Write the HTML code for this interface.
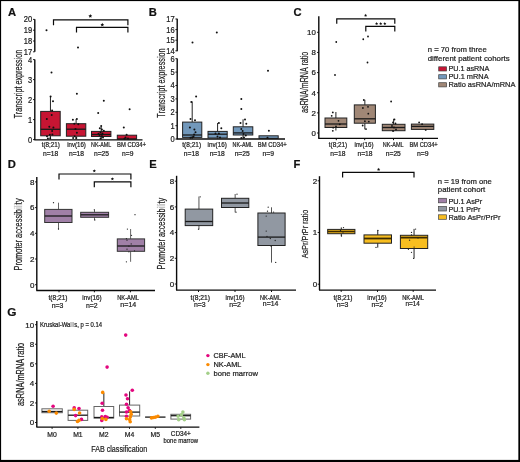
<!DOCTYPE html>
<html><head><meta charset="utf-8"><style>
html,body{margin:0;padding:0;background:#fff;}
body{width:520px;height:462px;overflow:hidden;position:relative;}
svg{position:absolute;left:0;top:0;will-change:transform;}
text{font-family:"Liberation Sans", sans-serif;stroke:#222;stroke-width:0.22px;paint-order:stroke;}
</style></head><body>
<svg width="520" height="462" viewBox="0 0 520 462">
<rect x="0" y="0" width="520" height="462" fill="#fff"/>
<text x="8.00" y="16.20" font-size="11.2" text-anchor="start" fill="#111" font-weight="bold">A</text>
<text x="148.80" y="16.20" font-size="11.2" text-anchor="start" fill="#111" font-weight="bold">B</text>
<text x="293.50" y="16.20" font-size="11.2" text-anchor="start" fill="#111" font-weight="bold">C</text>
<text x="7.80" y="168.00" font-size="11.2" text-anchor="start" fill="#111" font-weight="bold">D</text>
<text x="149.20" y="167.80" font-size="11.2" text-anchor="start" fill="#111" font-weight="bold">E</text>
<text x="293.50" y="168.00" font-size="11.2" text-anchor="start" fill="#111" font-weight="bold">F</text>
<text x="7.30" y="315.60" font-size="11.8" text-anchor="start" fill="#111" font-weight="bold">G</text>
<line x1="34.80" y1="19.20" x2="34.80" y2="51.80" stroke="#0a0a0a" stroke-width="1.4"/>
<line x1="33.00" y1="19.40" x2="34.80" y2="19.40" stroke="#0a0a0a" stroke-width="0.9"/>
<text x="32.20" y="22.34" font-size="8.2" text-anchor="end" fill="#1a1a1a" textLength="8.39" lengthAdjust="spacingAndGlyphs">20</text>
<line x1="33.00" y1="30.20" x2="34.80" y2="30.20" stroke="#0a0a0a" stroke-width="0.9"/>
<text x="32.20" y="33.14" font-size="8.2" text-anchor="end" fill="#1a1a1a" textLength="8.39" lengthAdjust="spacingAndGlyphs">19</text>
<line x1="33.00" y1="41.00" x2="34.80" y2="41.00" stroke="#0a0a0a" stroke-width="0.9"/>
<text x="32.20" y="43.94" font-size="8.2" text-anchor="end" fill="#1a1a1a" textLength="8.39" lengthAdjust="spacingAndGlyphs">18</text>
<line x1="33.00" y1="51.80" x2="34.80" y2="51.80" stroke="#0a0a0a" stroke-width="0.9"/>
<text x="32.20" y="54.74" font-size="8.2" text-anchor="end" fill="#1a1a1a" textLength="8.39" lengthAdjust="spacingAndGlyphs">17</text>
<line x1="34.80" y1="59.50" x2="34.80" y2="139.90" stroke="#0a0a0a" stroke-width="1.4"/>
<line x1="33.00" y1="59.60" x2="34.80" y2="59.60" stroke="#0a0a0a" stroke-width="0.9"/>
<text x="32.20" y="62.54" font-size="8.2" text-anchor="end" fill="#1a1a1a" textLength="4.19" lengthAdjust="spacingAndGlyphs">4</text>
<line x1="33.00" y1="79.60" x2="34.80" y2="79.60" stroke="#0a0a0a" stroke-width="0.9"/>
<text x="32.20" y="82.54" font-size="8.2" text-anchor="end" fill="#1a1a1a" textLength="4.19" lengthAdjust="spacingAndGlyphs">3</text>
<line x1="33.00" y1="99.60" x2="34.80" y2="99.60" stroke="#0a0a0a" stroke-width="0.9"/>
<text x="32.20" y="102.54" font-size="8.2" text-anchor="end" fill="#1a1a1a" textLength="4.19" lengthAdjust="spacingAndGlyphs">2</text>
<line x1="33.00" y1="119.60" x2="34.80" y2="119.60" stroke="#0a0a0a" stroke-width="0.9"/>
<text x="32.20" y="122.54" font-size="8.2" text-anchor="end" fill="#1a1a1a" textLength="4.19" lengthAdjust="spacingAndGlyphs">1</text>
<line x1="33.00" y1="139.60" x2="34.80" y2="139.60" stroke="#0a0a0a" stroke-width="0.9"/>
<text x="32.20" y="142.54" font-size="8.2" text-anchor="end" fill="#1a1a1a" textLength="4.19" lengthAdjust="spacingAndGlyphs">0</text>
<line x1="34.30" y1="139.90" x2="142.50" y2="139.90" stroke="#0a0a0a" stroke-width="1.3"/>
<text x="21.60" y="84.00" font-size="10.4" text-anchor="middle" fill="#222" textLength="68.7" lengthAdjust="spacingAndGlyphs" transform="rotate(-90 21.60 84.00)">Transcr<tspan fill="#666" stroke="#666">i</tspan>pt express<tspan fill="#666" stroke="#666">i</tspan>on</text>
<line x1="50.45" y1="96.50" x2="50.45" y2="111.40" stroke="#222" stroke-width="1.0"/>
<line x1="50.45" y1="135.80" x2="50.45" y2="139.50" stroke="#222" stroke-width="1.0"/>
<rect x="40.70" y="111.40" width="19.50" height="24.40" fill="#c71533" stroke="#222" stroke-width="1.0"/>
<line x1="40.70" y1="129.30" x2="60.20" y2="129.30" stroke="#1a1a1a" stroke-width="1.3"/>
<line x1="76.10" y1="119.00" x2="76.10" y2="123.70" stroke="#222" stroke-width="1.0"/>
<line x1="76.10" y1="136.20" x2="76.10" y2="139.50" stroke="#222" stroke-width="1.0"/>
<rect x="66.40" y="123.70" width="19.40" height="12.50" fill="#c71533" stroke="#222" stroke-width="1.0"/>
<line x1="66.40" y1="129.20" x2="85.80" y2="129.20" stroke="#1a1a1a" stroke-width="1.3"/>
<line x1="101.20" y1="126.50" x2="101.20" y2="131.40" stroke="#222" stroke-width="1.0"/>
<line x1="101.20" y1="136.50" x2="101.20" y2="139.50" stroke="#222" stroke-width="1.0"/>
<rect x="91.50" y="131.40" width="19.40" height="5.10" fill="#c71533" stroke="#222" stroke-width="1.0"/>
<line x1="91.50" y1="134.50" x2="110.90" y2="134.50" stroke="#1a1a1a" stroke-width="1.3"/>
<rect x="117.30" y="135.20" width="19.30" height="4.20" fill="#c71533" stroke="#222" stroke-width="1.0"/>
<line x1="117.30" y1="139.00" x2="136.60" y2="139.00" stroke="#1a1a1a" stroke-width="1.3"/>
<path d="M53.50,25.30 L53.50,19.80 L127.90,19.80 L127.90,25.30" stroke="#0a0a0a" stroke-width="1.2" fill="none"/>
<polygon points="90.30,14.10 90.85,15.34 92.20,15.48 91.19,16.39 91.48,17.72 90.30,17.04 89.12,17.72 89.41,16.39 88.40,15.48 89.75,15.34" fill="#111"/>
<path d="M76.50,32.60 L76.50,27.40 L127.90,27.40 L127.90,32.60" stroke="#0a0a0a" stroke-width="1.2" fill="none"/>
<polygon points="102.30,22.80 102.85,24.04 104.20,24.18 103.19,25.09 103.48,26.42 102.30,25.74 101.12,26.42 101.41,25.09 100.40,24.18 101.75,24.04" fill="#111"/>
<text x="50.80" y="146.50" font-size="7" text-anchor="middle" fill="#222" textLength="18.3" lengthAdjust="spacingAndGlyphs">t(8;21)</text>
<text x="50.60" y="156.20" font-size="7" text-anchor="middle" fill="#222" textLength="15.1" lengthAdjust="spacingAndGlyphs">n=18</text>
<text x="76.50" y="146.50" font-size="7" text-anchor="middle" fill="#222" textLength="18.7" lengthAdjust="spacingAndGlyphs">inv(16)</text>
<text x="76.50" y="156.20" font-size="7" text-anchor="middle" fill="#222" textLength="15.1" lengthAdjust="spacingAndGlyphs">n=18</text>
<text x="101.20" y="146.50" font-size="7" text-anchor="middle" fill="#222" textLength="20.2" lengthAdjust="spacingAndGlyphs">NK-AML</text>
<text x="101.50" y="156.20" font-size="7" text-anchor="middle" fill="#222" textLength="15.1" lengthAdjust="spacingAndGlyphs">n=25</text>
<text x="131.50" y="146.50" font-size="7" text-anchor="middle" fill="#222" textLength="28.9" lengthAdjust="spacingAndGlyphs">BM CD34+</text>
<text x="127.70" y="156.20" font-size="7" text-anchor="middle" fill="#222" textLength="11.3" lengthAdjust="spacingAndGlyphs">n=9</text>
<line x1="177.20" y1="18.80" x2="177.20" y2="51.30" stroke="#0a0a0a" stroke-width="1.4"/>
<line x1="175.40" y1="19.00" x2="177.20" y2="19.00" stroke="#0a0a0a" stroke-width="0.9"/>
<text x="174.60" y="21.94" font-size="8.2" text-anchor="end" fill="#1a1a1a" textLength="8.39" lengthAdjust="spacingAndGlyphs">17</text>
<line x1="175.40" y1="29.60" x2="177.20" y2="29.60" stroke="#0a0a0a" stroke-width="0.9"/>
<text x="174.60" y="32.54" font-size="8.2" text-anchor="end" fill="#1a1a1a" textLength="8.39" lengthAdjust="spacingAndGlyphs">16</text>
<line x1="175.40" y1="40.20" x2="177.20" y2="40.20" stroke="#0a0a0a" stroke-width="0.9"/>
<text x="174.60" y="43.14" font-size="8.2" text-anchor="end" fill="#1a1a1a" textLength="8.39" lengthAdjust="spacingAndGlyphs">15</text>
<line x1="175.40" y1="50.80" x2="177.20" y2="50.80" stroke="#0a0a0a" stroke-width="0.9"/>
<text x="174.60" y="53.74" font-size="8.2" text-anchor="end" fill="#1a1a1a" textLength="8.39" lengthAdjust="spacingAndGlyphs">14</text>
<line x1="177.20" y1="58.50" x2="177.20" y2="139.00" stroke="#0a0a0a" stroke-width="1.4"/>
<line x1="175.40" y1="58.70" x2="177.20" y2="58.70" stroke="#0a0a0a" stroke-width="0.9"/>
<text x="174.60" y="61.64" font-size="8.2" text-anchor="end" fill="#1a1a1a" textLength="4.19" lengthAdjust="spacingAndGlyphs">6</text>
<line x1="175.40" y1="72.10" x2="177.20" y2="72.10" stroke="#0a0a0a" stroke-width="0.9"/>
<text x="174.60" y="75.04" font-size="8.2" text-anchor="end" fill="#1a1a1a" textLength="4.19" lengthAdjust="spacingAndGlyphs">5</text>
<line x1="175.40" y1="85.50" x2="177.20" y2="85.50" stroke="#0a0a0a" stroke-width="0.9"/>
<text x="174.60" y="88.44" font-size="8.2" text-anchor="end" fill="#1a1a1a" textLength="4.19" lengthAdjust="spacingAndGlyphs">4</text>
<line x1="175.40" y1="98.90" x2="177.20" y2="98.90" stroke="#0a0a0a" stroke-width="0.9"/>
<text x="174.60" y="101.84" font-size="8.2" text-anchor="end" fill="#1a1a1a" textLength="4.19" lengthAdjust="spacingAndGlyphs">3</text>
<line x1="175.40" y1="112.30" x2="177.20" y2="112.30" stroke="#0a0a0a" stroke-width="0.9"/>
<text x="174.60" y="115.24" font-size="8.2" text-anchor="end" fill="#1a1a1a" textLength="4.19" lengthAdjust="spacingAndGlyphs">2</text>
<line x1="175.40" y1="125.70" x2="177.20" y2="125.70" stroke="#0a0a0a" stroke-width="0.9"/>
<text x="174.60" y="128.64" font-size="8.2" text-anchor="end" fill="#1a1a1a" textLength="4.19" lengthAdjust="spacingAndGlyphs">1</text>
<line x1="175.40" y1="139.10" x2="177.20" y2="139.10" stroke="#0a0a0a" stroke-width="0.9"/>
<text x="174.60" y="142.04" font-size="8.2" text-anchor="end" fill="#1a1a1a" textLength="4.19" lengthAdjust="spacingAndGlyphs">0</text>
<line x1="176.70" y1="139.00" x2="285.00" y2="139.00" stroke="#0a0a0a" stroke-width="1.3"/>
<text x="164.60" y="83.00" font-size="10.4" text-anchor="middle" fill="#222" textLength="69.3" lengthAdjust="spacingAndGlyphs" transform="rotate(-90 164.60 83.00)">Transcr<tspan fill="#666" stroke="#666">i</tspan>pt express<tspan fill="#666" stroke="#666">i</tspan>on</text>
<line x1="192.20" y1="101.50" x2="192.20" y2="122.10" stroke="#222" stroke-width="1.0"/>
<line x1="192.20" y1="137.40" x2="192.20" y2="139.00" stroke="#222" stroke-width="1.0"/>
<rect x="182.60" y="122.10" width="19.20" height="15.30" fill="#7298bb" stroke="#222" stroke-width="1.0"/>
<line x1="182.60" y1="135.00" x2="201.80" y2="135.00" stroke="#1a1a1a" stroke-width="1.3"/>
<line x1="217.60" y1="123.00" x2="217.60" y2="131.40" stroke="#222" stroke-width="1.0"/>
<line x1="217.60" y1="138.00" x2="217.60" y2="139.00" stroke="#222" stroke-width="1.0"/>
<rect x="208.00" y="131.40" width="19.20" height="6.60" fill="#7298bb" stroke="#222" stroke-width="1.0"/>
<line x1="208.00" y1="134.20" x2="227.20" y2="134.20" stroke="#1a1a1a" stroke-width="1.3"/>
<line x1="243.05" y1="119.30" x2="243.05" y2="126.80" stroke="#222" stroke-width="1.0"/>
<line x1="243.05" y1="135.00" x2="243.05" y2="139.00" stroke="#222" stroke-width="1.0"/>
<rect x="233.30" y="126.80" width="19.50" height="8.20" fill="#7298bb" stroke="#222" stroke-width="1.0"/>
<line x1="233.30" y1="132.90" x2="252.80" y2="132.90" stroke="#1a1a1a" stroke-width="1.3"/>
<rect x="259.00" y="135.80" width="19.20" height="2.70" fill="#7298bb" stroke="#222" stroke-width="1.0"/>
<line x1="259.00" y1="138.30" x2="278.20" y2="138.30" stroke="#1a1a1a" stroke-width="0.8"/>
<text x="191.70" y="146.50" font-size="7" text-anchor="middle" fill="#222" textLength="18.8" lengthAdjust="spacingAndGlyphs">t(8;21)</text>
<text x="191.40" y="156.20" font-size="7" text-anchor="middle" fill="#222" textLength="15.1" lengthAdjust="spacingAndGlyphs">n=18</text>
<text x="217.20" y="146.50" font-size="7" text-anchor="middle" fill="#222" textLength="19.2" lengthAdjust="spacingAndGlyphs">inv(16)</text>
<text x="217.20" y="156.20" font-size="7" text-anchor="middle" fill="#222" textLength="15.1" lengthAdjust="spacingAndGlyphs">n=18</text>
<text x="242.80" y="146.50" font-size="7" text-anchor="middle" fill="#222" textLength="20.5" lengthAdjust="spacingAndGlyphs">NK-AML</text>
<text x="242.20" y="156.20" font-size="7" text-anchor="middle" fill="#222" textLength="15.1" lengthAdjust="spacingAndGlyphs">n=25</text>
<text x="272.30" y="146.50" font-size="7" text-anchor="middle" fill="#222" textLength="29" lengthAdjust="spacingAndGlyphs">BM CD34+</text>
<text x="268.30" y="156.20" font-size="7" text-anchor="middle" fill="#222" textLength="11.5" lengthAdjust="spacingAndGlyphs">n=9</text>
<line x1="318.80" y1="16.30" x2="318.80" y2="138.40" stroke="#0a0a0a" stroke-width="1.4"/>
<line x1="317.00" y1="32.30" x2="318.80" y2="32.30" stroke="#0a0a0a" stroke-width="0.9"/>
<text x="315.80" y="35.13" font-size="7.9" text-anchor="end" fill="#1a1a1a">10</text>
<line x1="317.00" y1="52.44" x2="318.80" y2="52.44" stroke="#0a0a0a" stroke-width="0.9"/>
<text x="315.80" y="55.27" font-size="7.9" text-anchor="end" fill="#1a1a1a">8</text>
<line x1="317.00" y1="72.58" x2="318.80" y2="72.58" stroke="#0a0a0a" stroke-width="0.9"/>
<text x="315.80" y="75.41" font-size="7.9" text-anchor="end" fill="#1a1a1a">6</text>
<line x1="317.00" y1="92.72" x2="318.80" y2="92.72" stroke="#0a0a0a" stroke-width="0.9"/>
<text x="315.80" y="95.55" font-size="7.9" text-anchor="end" fill="#1a1a1a">4</text>
<line x1="317.00" y1="112.86" x2="318.80" y2="112.86" stroke="#0a0a0a" stroke-width="0.9"/>
<text x="315.80" y="115.69" font-size="7.9" text-anchor="end" fill="#1a1a1a">2</text>
<line x1="317.00" y1="133.00" x2="318.80" y2="133.00" stroke="#0a0a0a" stroke-width="0.9"/>
<text x="315.80" y="135.83" font-size="7.9" text-anchor="end" fill="#1a1a1a">0</text>
<line x1="318.30" y1="138.40" x2="438.00" y2="138.40" stroke="#0a0a0a" stroke-width="1.3"/>
<text x="307.60" y="82.30" font-size="10.8" text-anchor="middle" fill="#222" textLength="61.2" lengthAdjust="spacingAndGlyphs" transform="rotate(-90 307.60 82.30)">asRNA/mRNA ratio</text>
<line x1="335.90" y1="112.00" x2="335.90" y2="118.00" stroke="#222" stroke-width="1.0"/>
<line x1="335.90" y1="127.50" x2="335.90" y2="130.50" stroke="#222" stroke-width="1.0"/>
<rect x="325.00" y="118.00" width="21.80" height="9.50" fill="#a08776" stroke="#222" stroke-width="1.0"/>
<line x1="325.00" y1="124.00" x2="346.80" y2="124.00" stroke="#1a1a1a" stroke-width="1.3"/>
<line x1="364.85" y1="99.80" x2="364.85" y2="104.90" stroke="#222" stroke-width="1.0"/>
<line x1="364.85" y1="123.20" x2="364.85" y2="129.40" stroke="#222" stroke-width="1.0"/>
<rect x="354.30" y="104.90" width="21.10" height="18.30" fill="#a08776" stroke="#222" stroke-width="1.0"/>
<line x1="354.30" y1="118.80" x2="375.40" y2="118.80" stroke="#1a1a1a" stroke-width="1.3"/>
<line x1="393.65" y1="118.80" x2="393.65" y2="124.30" stroke="#222" stroke-width="1.0"/>
<line x1="393.65" y1="130.70" x2="393.65" y2="131.50" stroke="#222" stroke-width="1.0"/>
<rect x="382.30" y="124.30" width="22.70" height="6.40" fill="#a08776" stroke="#222" stroke-width="1.0"/>
<line x1="382.30" y1="127.50" x2="405.00" y2="127.50" stroke="#1a1a1a" stroke-width="1.3"/>
<rect x="411.40" y="124.10" width="22.40" height="5.30" fill="#a08776" stroke="#222" stroke-width="1.0"/>
<line x1="411.40" y1="126.40" x2="433.80" y2="126.40" stroke="#1a1a1a" stroke-width="1.3"/>
<path d="M336.75,23.80 L336.75,18.80 L394.80,18.80 L394.80,23.80" stroke="#0a0a0a" stroke-width="1.2" fill="none"/>
<polygon points="365.60,13.80 366.04,14.79 367.12,14.91 366.32,15.63 366.54,16.69 365.60,16.15 364.66,16.69 364.88,15.63 364.08,14.91 365.16,14.79" fill="#111"/>
<path d="M365.80,31.60 L365.80,26.30 L394.80,26.30 L394.80,31.60" stroke="#0a0a0a" stroke-width="1.2" fill="none"/>
<polygon points="376.60,22.10 377.04,23.09 378.12,23.21 377.32,23.93 377.54,24.99 376.60,24.45 375.66,24.99 375.88,23.93 375.08,23.21 376.16,23.09" fill="#111"/>
<polygon points="380.70,22.10 381.14,23.09 382.22,23.21 381.42,23.93 381.64,24.99 380.70,24.45 379.76,24.99 379.98,23.93 379.18,23.21 380.26,23.09" fill="#111"/>
<polygon points="384.80,22.10 385.24,23.09 386.32,23.21 385.52,23.93 385.74,24.99 384.80,24.45 383.86,24.99 384.08,23.93 383.28,23.21 384.36,23.09" fill="#111"/>
<text x="338.00" y="147.20" font-size="7" text-anchor="middle" fill="#222" textLength="18.4" lengthAdjust="spacingAndGlyphs">t(8;21)</text>
<text x="337.90" y="156.40" font-size="7" text-anchor="middle" fill="#222" textLength="15.1" lengthAdjust="spacingAndGlyphs">n=18</text>
<text x="364.00" y="147.20" font-size="7" text-anchor="middle" fill="#222" textLength="19" lengthAdjust="spacingAndGlyphs">inv(16)</text>
<text x="365.00" y="156.40" font-size="7" text-anchor="middle" fill="#222" textLength="15.1" lengthAdjust="spacingAndGlyphs">n=18</text>
<text x="393.20" y="147.20" font-size="7" text-anchor="middle" fill="#222" textLength="20.7" lengthAdjust="spacingAndGlyphs">NK-AML</text>
<text x="393.30" y="156.40" font-size="7" text-anchor="middle" fill="#222" textLength="15.1" lengthAdjust="spacingAndGlyphs">n=25</text>
<text x="423.60" y="147.20" font-size="7" text-anchor="middle" fill="#222" textLength="28.2" lengthAdjust="spacingAndGlyphs">BM CD34+</text>
<text x="422.70" y="156.40" font-size="7" text-anchor="middle" fill="#222" textLength="11.6" lengthAdjust="spacingAndGlyphs">n=9</text>
<text x="427.70" y="52.20" font-size="7.8" text-anchor="start" fill="#222" textLength="59" lengthAdjust="spacingAndGlyphs">n = 70 from three</text>
<text x="427.70" y="60.80" font-size="7.8" text-anchor="start" fill="#222" textLength="82" lengthAdjust="spacingAndGlyphs">different patient cohorts</text>
<rect x="438.70" y="66.80" width="7.90" height="4.20" fill="#c71533" stroke="#444" stroke-width="0.7"/>
<text x="448.40" y="71.30" font-size="7.8" text-anchor="start" fill="#222" textLength="41" lengthAdjust="spacingAndGlyphs">PU.1 asRNA</text>
<rect x="438.70" y="74.70" width="7.90" height="4.20" fill="#7298bb" stroke="#444" stroke-width="0.7"/>
<text x="448.40" y="79.20" font-size="7.8" text-anchor="start" fill="#222" textLength="40.2" lengthAdjust="spacingAndGlyphs">PU.1 mRNA</text>
<rect x="438.70" y="82.70" width="7.90" height="4.20" fill="#a08776" stroke="#444" stroke-width="0.7"/>
<text x="448.40" y="87.20" font-size="7.8" text-anchor="start" fill="#222" textLength="67" lengthAdjust="spacingAndGlyphs">Ratio asRNA/mRNA</text>
<line x1="36.80" y1="177.00" x2="36.80" y2="290.50" stroke="#0a0a0a" stroke-width="1.4"/>
<line x1="35.00" y1="181.90" x2="36.80" y2="181.90" stroke="#0a0a0a" stroke-width="0.9"/>
<text x="34.40" y="184.76" font-size="8" text-anchor="end" fill="#1a1a1a">8</text>
<line x1="35.00" y1="207.60" x2="36.80" y2="207.60" stroke="#0a0a0a" stroke-width="0.9"/>
<text x="34.40" y="210.46" font-size="8" text-anchor="end" fill="#1a1a1a">6</text>
<line x1="35.00" y1="233.30" x2="36.80" y2="233.30" stroke="#0a0a0a" stroke-width="0.9"/>
<text x="34.40" y="236.16" font-size="8" text-anchor="end" fill="#1a1a1a">4</text>
<line x1="35.00" y1="259.00" x2="36.80" y2="259.00" stroke="#0a0a0a" stroke-width="0.9"/>
<text x="34.40" y="261.86" font-size="8" text-anchor="end" fill="#1a1a1a">2</text>
<line x1="35.00" y1="284.70" x2="36.80" y2="284.70" stroke="#0a0a0a" stroke-width="0.9"/>
<text x="34.40" y="287.56" font-size="8" text-anchor="end" fill="#1a1a1a">0</text>
<line x1="36.30" y1="290.50" x2="155.00" y2="290.50" stroke="#0a0a0a" stroke-width="1.3"/>
<text x="22.00" y="234.40" font-size="10.2" text-anchor="middle" fill="#222" textLength="72.0" lengthAdjust="spacingAndGlyphs" transform="rotate(-90 22.00 234.40)">Promoter accessib<tspan fill="#bbb" stroke="#bbb">ili</tspan>ty</text>
<line x1="58.50" y1="202.70" x2="58.50" y2="209.40" stroke="#555" stroke-width="0.9"/>
<line x1="58.50" y1="222.50" x2="58.50" y2="229.40" stroke="#555" stroke-width="0.9"/>
<rect x="44.70" y="209.40" width="27.30" height="13.10" fill="#a080a7" stroke="#333" stroke-width="1.0"/>
<line x1="44.70" y1="216.00" x2="72.00" y2="216.00" stroke="#1a1a1a" stroke-width="1.3"/>
<line x1="94.50" y1="209.60" x2="94.50" y2="212.30" stroke="#555" stroke-width="0.9"/>
<line x1="94.50" y1="217.30" x2="94.50" y2="220.00" stroke="#555" stroke-width="0.9"/>
<rect x="80.70" y="212.30" width="27.90" height="5.00" fill="#a080a7" stroke="#333" stroke-width="1.0"/>
<line x1="80.70" y1="214.80" x2="108.60" y2="214.80" stroke="#1a1a1a" stroke-width="1.3"/>
<line x1="130.60" y1="229.00" x2="130.60" y2="238.90" stroke="#555" stroke-width="0.9"/>
<line x1="130.60" y1="251.30" x2="130.60" y2="261.80" stroke="#555" stroke-width="0.9"/>
<rect x="117.30" y="238.90" width="27.30" height="12.40" fill="#a080a7" stroke="#333" stroke-width="1.0"/>
<line x1="117.30" y1="246.00" x2="144.60" y2="246.00" stroke="#1a1a1a" stroke-width="1.3"/>
<path d="M59.00,179.50 L59.00,174.00 L130.90,174.00 L130.90,179.50" stroke="#0a0a0a" stroke-width="1.2" fill="none"/>
<polygon points="94.30,169.20 94.77,170.25 95.92,170.37 95.06,171.15 95.30,172.28 94.30,171.70 93.30,172.28 93.54,171.15 92.68,170.37 93.83,170.25" fill="#111"/>
<path d="M94.30,187.20 L94.30,181.80 L130.90,181.80 L130.90,187.20" stroke="#0a0a0a" stroke-width="1.2" fill="none"/>
<polygon points="112.40,177.20 112.87,178.25 114.02,178.37 113.16,179.15 113.40,180.28 112.40,179.70 111.40,180.28 111.64,179.15 110.78,178.37 111.93,178.25" fill="#111"/>
<text x="58.00" y="300.10" font-size="7" text-anchor="middle" fill="#222" textLength="19" lengthAdjust="spacingAndGlyphs">t(8;21)</text>
<text x="57.50" y="308.10" font-size="7" text-anchor="middle" fill="#222" textLength="11.7" lengthAdjust="spacingAndGlyphs">n=3</text>
<text x="92.00" y="300.10" font-size="7" text-anchor="middle" fill="#222" textLength="19.5" lengthAdjust="spacingAndGlyphs">inv(16)</text>
<text x="91.80" y="308.10" font-size="7" text-anchor="middle" fill="#222" textLength="11.7" lengthAdjust="spacingAndGlyphs">n=2</text>
<text x="128.10" y="300.10" font-size="7" text-anchor="middle" fill="#222" textLength="21.8" lengthAdjust="spacingAndGlyphs">NK-AML</text>
<text x="128.30" y="306.90" font-size="7" text-anchor="middle" fill="#222" textLength="15.9" lengthAdjust="spacingAndGlyphs">n=14</text>
<line x1="176.60" y1="175.80" x2="176.60" y2="290.20" stroke="#0a0a0a" stroke-width="1.4"/>
<line x1="174.80" y1="181.20" x2="176.60" y2="181.20" stroke="#0a0a0a" stroke-width="0.9"/>
<text x="174.20" y="184.06" font-size="8" text-anchor="end" fill="#1a1a1a">8</text>
<line x1="174.80" y1="206.90" x2="176.60" y2="206.90" stroke="#0a0a0a" stroke-width="0.9"/>
<text x="174.20" y="209.76" font-size="8" text-anchor="end" fill="#1a1a1a">6</text>
<line x1="174.80" y1="232.60" x2="176.60" y2="232.60" stroke="#0a0a0a" stroke-width="0.9"/>
<text x="174.20" y="235.46" font-size="8" text-anchor="end" fill="#1a1a1a">4</text>
<line x1="174.80" y1="258.30" x2="176.60" y2="258.30" stroke="#0a0a0a" stroke-width="0.9"/>
<text x="174.20" y="261.16" font-size="8" text-anchor="end" fill="#1a1a1a">2</text>
<line x1="174.80" y1="284.00" x2="176.60" y2="284.00" stroke="#0a0a0a" stroke-width="0.9"/>
<text x="174.20" y="286.86" font-size="8" text-anchor="end" fill="#1a1a1a">0</text>
<line x1="176.10" y1="290.20" x2="296.00" y2="290.20" stroke="#0a0a0a" stroke-width="1.3"/>
<text x="165.10" y="233.60" font-size="10.2" text-anchor="middle" fill="#222" textLength="71.6" lengthAdjust="spacingAndGlyphs" transform="rotate(-90 165.10 233.60)">Promoter accessib<tspan fill="#bbb" stroke="#bbb">ili</tspan>ty</text>
<line x1="198.95" y1="196.50" x2="198.95" y2="209.10" stroke="#555" stroke-width="1.0"/>
<line x1="198.95" y1="225.60" x2="198.95" y2="229.40" stroke="#555" stroke-width="1.0"/>
<rect x="185.20" y="209.10" width="27.50" height="16.50" fill="#9198a2" stroke="#222" stroke-width="1.0"/>
<line x1="185.20" y1="221.50" x2="212.70" y2="221.50" stroke="#1a1a1a" stroke-width="1.3"/>
<line x1="235.15" y1="194.00" x2="235.15" y2="198.30" stroke="#555" stroke-width="1.0"/>
<line x1="235.15" y1="207.50" x2="235.15" y2="212.40" stroke="#555" stroke-width="1.0"/>
<rect x="221.50" y="198.30" width="27.30" height="9.20" fill="#9198a2" stroke="#222" stroke-width="1.0"/>
<line x1="221.50" y1="203.00" x2="248.80" y2="203.00" stroke="#1a1a1a" stroke-width="1.3"/>
<line x1="271.50" y1="207.30" x2="271.50" y2="213.00" stroke="#555" stroke-width="1.0"/>
<line x1="271.50" y1="245.50" x2="271.50" y2="262.60" stroke="#555" stroke-width="1.0"/>
<rect x="257.90" y="213.00" width="27.20" height="32.50" fill="#9198a2" stroke="#222" stroke-width="1.0"/>
<line x1="257.90" y1="237.10" x2="285.10" y2="237.10" stroke="#1a1a1a" stroke-width="1.3"/>
<text x="200.30" y="300.30" font-size="7" text-anchor="middle" fill="#222" textLength="19.4" lengthAdjust="spacingAndGlyphs">t(8;21)</text>
<text x="199.80" y="307.40" font-size="7" text-anchor="middle" fill="#222" textLength="11.7" lengthAdjust="spacingAndGlyphs">n=3</text>
<text x="235.00" y="300.30" font-size="7" text-anchor="middle" fill="#222" textLength="19" lengthAdjust="spacingAndGlyphs">inv(16)</text>
<text x="235.00" y="307.40" font-size="7" text-anchor="middle" fill="#222" textLength="11.7" lengthAdjust="spacingAndGlyphs">n=2</text>
<text x="270.50" y="300.30" font-size="7" text-anchor="middle" fill="#222" textLength="21" lengthAdjust="spacingAndGlyphs">NK-AML</text>
<text x="270.60" y="306.20" font-size="7" text-anchor="middle" fill="#222" textLength="15.5" lengthAdjust="spacingAndGlyphs">n=14</text>
<line x1="319.50" y1="176.20" x2="319.50" y2="290.10" stroke="#0a0a0a" stroke-width="1.4"/>
<line x1="317.70" y1="180.80" x2="319.50" y2="180.80" stroke="#0a0a0a" stroke-width="0.9"/>
<text x="317.10" y="183.66" font-size="8" text-anchor="end" fill="#1a1a1a">2</text>
<line x1="317.70" y1="232.50" x2="319.50" y2="232.50" stroke="#0a0a0a" stroke-width="0.9"/>
<text x="317.10" y="235.36" font-size="8" text-anchor="end" fill="#1a1a1a">1</text>
<line x1="317.70" y1="284.20" x2="319.50" y2="284.20" stroke="#0a0a0a" stroke-width="0.9"/>
<text x="317.10" y="287.06" font-size="8" text-anchor="end" fill="#1a1a1a">0</text>
<line x1="319.00" y1="290.10" x2="436.00" y2="290.10" stroke="#0a0a0a" stroke-width="1.3"/>
<text x="307.90" y="234.00" font-size="9.8" text-anchor="middle" fill="#222" textLength="48.5" lengthAdjust="spacingAndGlyphs" transform="rotate(-90 307.90 234.00)">AsPr/PrPr ratio</text>
<line x1="341.30" y1="227.40" x2="341.30" y2="229.40" stroke="#222" stroke-width="1.0"/>
<line x1="341.30" y1="233.70" x2="341.30" y2="236.20" stroke="#222" stroke-width="1.0"/>
<rect x="327.70" y="229.40" width="27.20" height="4.30" fill="#f8be20" stroke="#222" stroke-width="1.0"/>
<line x1="327.70" y1="231.50" x2="354.90" y2="231.50" stroke="#3d2b00" stroke-width="1.6"/>
<line x1="377.75" y1="230.20" x2="377.75" y2="234.90" stroke="#222" stroke-width="1.0"/>
<line x1="377.75" y1="243.20" x2="377.75" y2="247.60" stroke="#222" stroke-width="1.0"/>
<rect x="364.00" y="234.90" width="27.50" height="8.30" fill="#f8be20" stroke="#222" stroke-width="1.0"/>
<line x1="364.00" y1="238.50" x2="391.50" y2="238.50" stroke="#3d2b00" stroke-width="1.8"/>
<line x1="414.05" y1="228.90" x2="414.05" y2="235.30" stroke="#222" stroke-width="1.0"/>
<line x1="414.05" y1="248.50" x2="414.05" y2="258.40" stroke="#222" stroke-width="1.0"/>
<rect x="400.40" y="235.30" width="27.30" height="13.20" fill="#f8be20" stroke="#222" stroke-width="1.0"/>
<line x1="400.40" y1="237.60" x2="427.70" y2="237.60" stroke="#3d2b00" stroke-width="1.8"/>
<path d="M342.60,177.40 L342.60,172.40 L414.00,172.40 L414.00,177.40" stroke="#0a0a0a" stroke-width="1.2" fill="none"/>
<polygon points="378.60,167.80 379.07,168.85 380.22,168.97 379.36,169.75 379.60,170.88 378.60,170.30 377.60,170.88 377.84,169.75 376.98,168.97 378.13,168.85" fill="#111"/>
<text x="343.00" y="299.80" font-size="7" text-anchor="middle" fill="#222" textLength="19" lengthAdjust="spacingAndGlyphs">t(8;21)</text>
<text x="342.50" y="307.40" font-size="7" text-anchor="middle" fill="#222" textLength="11.7" lengthAdjust="spacingAndGlyphs">n=3</text>
<text x="377.00" y="299.80" font-size="7" text-anchor="middle" fill="#222" textLength="19.5" lengthAdjust="spacingAndGlyphs">inv(16)</text>
<text x="377.30" y="307.40" font-size="7" text-anchor="middle" fill="#222" textLength="11.7" lengthAdjust="spacingAndGlyphs">n=2</text>
<text x="413.10" y="299.80" font-size="7" text-anchor="middle" fill="#222" textLength="21.8" lengthAdjust="spacingAndGlyphs">NK-AML</text>
<text x="412.60" y="306.20" font-size="7" text-anchor="middle" fill="#222" textLength="14.4" lengthAdjust="spacingAndGlyphs">n=14</text>
<text x="437.80" y="183.80" font-size="7.8" text-anchor="start" fill="#222" textLength="54" lengthAdjust="spacingAndGlyphs">n = 19 from one</text>
<text x="437.80" y="192.00" font-size="7.8" text-anchor="start" fill="#222" textLength="47.5" lengthAdjust="spacingAndGlyphs">patient cohort</text>
<rect x="438.50" y="198.30" width="8.00" height="4.50" fill="#a080a7" stroke="#444" stroke-width="0.7"/>
<text x="448.40" y="203.50" font-size="7.8" text-anchor="start" fill="#222" textLength="33.8" lengthAdjust="spacingAndGlyphs">PU.1 AsPr</text>
<rect x="438.50" y="206.50" width="8.00" height="4.50" fill="#9198a2" stroke="#444" stroke-width="0.7"/>
<text x="448.40" y="211.70" font-size="7.8" text-anchor="start" fill="#222" textLength="32" lengthAdjust="spacingAndGlyphs">PU.1 PrPr</text>
<rect x="438.50" y="214.80" width="8.00" height="4.50" fill="#f8be20" stroke="#444" stroke-width="0.7"/>
<text x="448.40" y="220.00" font-size="7.8" text-anchor="start" fill="#222" textLength="52" lengthAdjust="spacingAndGlyphs">Ratio AsPr/PrPr</text>
<line x1="36.80" y1="321.00" x2="36.80" y2="427.10" stroke="#0a0a0a" stroke-width="1.4"/>
<line x1="35.00" y1="324.70" x2="36.80" y2="324.70" stroke="#0a0a0a" stroke-width="0.9"/>
<text x="34.10" y="327.56" font-size="8" text-anchor="end" fill="#1a1a1a">10</text>
<line x1="35.00" y1="344.26" x2="36.80" y2="344.26" stroke="#0a0a0a" stroke-width="0.9"/>
<text x="34.10" y="347.12" font-size="8" text-anchor="end" fill="#1a1a1a">8</text>
<line x1="35.00" y1="363.82" x2="36.80" y2="363.82" stroke="#0a0a0a" stroke-width="0.9"/>
<text x="34.10" y="366.68" font-size="8" text-anchor="end" fill="#1a1a1a">6</text>
<line x1="35.00" y1="383.38" x2="36.80" y2="383.38" stroke="#0a0a0a" stroke-width="0.9"/>
<text x="34.10" y="386.24" font-size="8" text-anchor="end" fill="#1a1a1a">4</text>
<line x1="35.00" y1="402.94" x2="36.80" y2="402.94" stroke="#0a0a0a" stroke-width="0.9"/>
<text x="34.10" y="405.80" font-size="8" text-anchor="end" fill="#1a1a1a">2</text>
<line x1="35.00" y1="422.50" x2="36.80" y2="422.50" stroke="#0a0a0a" stroke-width="0.9"/>
<text x="34.10" y="425.36" font-size="8" text-anchor="end" fill="#1a1a1a">0</text>
<line x1="36.30" y1="427.10" x2="199.40" y2="427.10" stroke="#0a0a0a" stroke-width="1.3"/>
<text x="23.90" y="374.40" font-size="10.0" text-anchor="middle" fill="#222" textLength="63.2" lengthAdjust="spacingAndGlyphs" transform="rotate(-90 23.90 374.40)">asRNA/mRNA ratio</text>
<text x="40.00" y="326.70" font-size="6.6" text-anchor="start" fill="#222" textLength="62.0" lengthAdjust="spacingAndGlyphs">Kruskal-Wa<tspan fill="#999" stroke="#999">lli</tspan>s, p = 0.14</text>
<rect x="41.90" y="408.80" width="20.40" height="3.90" fill="white" stroke="#666" stroke-width="1.0"/>
<line x1="41.90" y1="411.50" x2="62.30" y2="411.50" stroke="#1a1a1a" stroke-width="1.3"/>
<rect x="68.10" y="410.20" width="19.60" height="10.20" fill="white" stroke="#666" stroke-width="1.0"/>
<line x1="68.10" y1="415.20" x2="87.70" y2="415.20" stroke="#1a1a1a" stroke-width="1.3"/>
<line x1="103.85" y1="393.00" x2="103.85" y2="406.50" stroke="#222" stroke-width="1.0"/>
<rect x="94.00" y="406.50" width="19.70" height="11.60" fill="white" stroke="#666" stroke-width="1.0"/>
<line x1="94.00" y1="417.50" x2="113.70" y2="417.50" stroke="#1a1a1a" stroke-width="1.3"/>
<line x1="129.60" y1="391.40" x2="129.60" y2="405.10" stroke="#222" stroke-width="1.0"/>
<rect x="119.50" y="405.10" width="20.20" height="10.90" fill="white" stroke="#666" stroke-width="1.0"/>
<line x1="119.50" y1="412.10" x2="139.70" y2="412.10" stroke="#1a1a1a" stroke-width="1.3"/>
<line x1="145.10" y1="417.10" x2="165.50" y2="417.10" stroke="#1a1a1a" stroke-width="1.3"/>
<rect x="170.90" y="414.30" width="19.70" height="4.80" fill="white" stroke="#666" stroke-width="1.0"/>
<line x1="170.90" y1="415.70" x2="190.60" y2="415.70" stroke="#1a1a1a" stroke-width="1.3"/>
<line x1="52.10" y1="427.10" x2="52.10" y2="429.00" stroke="#0a0a0a" stroke-width="0.8"/>
<text x="52.10" y="436.70" font-size="7.2" text-anchor="middle" fill="#222" textLength="9.5" lengthAdjust="spacingAndGlyphs">M0</text>
<line x1="77.90" y1="427.10" x2="77.90" y2="429.00" stroke="#0a0a0a" stroke-width="0.8"/>
<text x="77.90" y="436.70" font-size="7.2" text-anchor="middle" fill="#222" textLength="9.5" lengthAdjust="spacingAndGlyphs">M1</text>
<line x1="103.70" y1="427.10" x2="103.70" y2="429.00" stroke="#0a0a0a" stroke-width="0.8"/>
<text x="103.70" y="436.70" font-size="7.2" text-anchor="middle" fill="#222" textLength="9.5" lengthAdjust="spacingAndGlyphs">M2</text>
<line x1="129.50" y1="427.10" x2="129.50" y2="429.00" stroke="#0a0a0a" stroke-width="0.8"/>
<text x="129.50" y="436.70" font-size="7.2" text-anchor="middle" fill="#222" textLength="9.5" lengthAdjust="spacingAndGlyphs">M4</text>
<line x1="155.30" y1="427.10" x2="155.30" y2="429.00" stroke="#0a0a0a" stroke-width="0.8"/>
<text x="155.30" y="436.70" font-size="7.2" text-anchor="middle" fill="#222" textLength="9.5" lengthAdjust="spacingAndGlyphs">M5</text>
<line x1="180.80" y1="427.10" x2="180.80" y2="429.00" stroke="#0a0a0a" stroke-width="0.8"/>
<text x="180.80" y="435.50" font-size="7.0" text-anchor="middle" fill="#222" textLength="20" lengthAdjust="spacingAndGlyphs">CD34+</text>
<text x="180.80" y="443.00" font-size="7.0" text-anchor="middle" fill="#222" textLength="34.5" lengthAdjust="spacingAndGlyphs">bone marrow</text>
<text x="119.20" y="452.40" font-size="9.6" text-anchor="middle" fill="#222" textLength="56" lengthAdjust="spacingAndGlyphs">FAB classification</text>
<circle cx="207.90" cy="355.60" r="1.7" fill="#e3067e"/>
<text x="213.50" y="358.00" font-size="7.6" text-anchor="start" fill="#222" textLength="32" lengthAdjust="spacingAndGlyphs">CBF-AML</text>
<circle cx="207.90" cy="364.60" r="1.7" fill="#fb8a00"/>
<text x="213.50" y="367.00" font-size="7.6" text-anchor="start" fill="#222" textLength="28" lengthAdjust="spacingAndGlyphs">NK-AML</text>
<circle cx="207.90" cy="373.30" r="1.7" fill="#a3cf88"/>
<text x="213.50" y="375.70" font-size="7.6" text-anchor="start" fill="#222" textLength="44.4" lengthAdjust="spacingAndGlyphs">bone marrow</text>
<line x1="336.30" y1="138.40" x2="336.30" y2="140.20" stroke="#0a0a0a" stroke-width="1.0"/>
<line x1="364.70" y1="138.40" x2="364.70" y2="140.20" stroke="#0a0a0a" stroke-width="1.0"/>
<line x1="393.50" y1="138.40" x2="393.50" y2="140.20" stroke="#0a0a0a" stroke-width="1.0"/>
<line x1="422.40" y1="138.40" x2="422.40" y2="140.20" stroke="#0a0a0a" stroke-width="1.0"/>
<line x1="59.00" y1="290.50" x2="59.00" y2="292.30" stroke="#0a0a0a" stroke-width="1.0"/>
<line x1="94.40" y1="290.50" x2="94.40" y2="292.30" stroke="#0a0a0a" stroke-width="1.0"/>
<line x1="130.40" y1="290.50" x2="130.40" y2="292.30" stroke="#0a0a0a" stroke-width="1.0"/>
<line x1="198.50" y1="290.20" x2="198.50" y2="292.00" stroke="#0a0a0a" stroke-width="1.0"/>
<line x1="235.00" y1="290.20" x2="235.00" y2="292.00" stroke="#0a0a0a" stroke-width="1.0"/>
<line x1="271.50" y1="290.20" x2="271.50" y2="292.00" stroke="#0a0a0a" stroke-width="1.0"/>
<line x1="341.20" y1="290.10" x2="341.20" y2="291.90" stroke="#0a0a0a" stroke-width="1.0"/>
<line x1="377.50" y1="290.10" x2="377.50" y2="291.90" stroke="#0a0a0a" stroke-width="1.0"/>
<line x1="413.20" y1="290.10" x2="413.20" y2="291.90" stroke="#0a0a0a" stroke-width="1.0"/>
<circle cx="46.50" cy="30.30" r="1.0" fill="#111"/>
<circle cx="78.00" cy="47.50" r="1.0" fill="#111"/>
<circle cx="51.50" cy="72.50" r="1.0" fill="#111"/>
<circle cx="76.90" cy="93.80" r="1.0" fill="#111"/>
<circle cx="103.80" cy="100.70" r="1.0" fill="#111"/>
<circle cx="98.20" cy="113.10" r="1.0" fill="#111"/>
<circle cx="129.60" cy="109.30" r="1.0" fill="#111"/>
<circle cx="123.80" cy="127.60" r="1.0" fill="#111"/>
<circle cx="50.60" cy="96.50" r="1.0" fill="#111"/>
<circle cx="53.00" cy="101.30" r="1.0" fill="#111"/>
<circle cx="52.10" cy="110.60" r="1.0" fill="#111"/>
<circle cx="51.70" cy="115.00" r="1.0" fill="#111"/>
<circle cx="46.80" cy="118.90" r="1.0" fill="#111"/>
<circle cx="49.30" cy="126.80" r="1.0" fill="#111"/>
<circle cx="53.40" cy="127.50" r="1.0" fill="#111"/>
<circle cx="52.10" cy="131.10" r="1.0" fill="#111"/>
<circle cx="52.40" cy="134.50" r="1.0" fill="#111"/>
<circle cx="49.80" cy="134.80" r="1.0" fill="#111"/>
<circle cx="47.00" cy="136.20" r="1.0" fill="#111"/>
<circle cx="50.20" cy="138.20" r="1.0" fill="#111"/>
<circle cx="47.90" cy="138.60" r="1.0" fill="#111"/>
<circle cx="72.90" cy="119.80" r="1.0" fill="#111"/>
<circle cx="76.90" cy="119.10" r="1.0" fill="#111"/>
<circle cx="74.30" cy="123.80" r="1.0" fill="#111"/>
<circle cx="78.30" cy="124.30" r="1.0" fill="#111"/>
<circle cx="76.90" cy="132.80" r="1.0" fill="#111"/>
<circle cx="74.60" cy="136.20" r="1.0" fill="#111"/>
<circle cx="76.30" cy="137.90" r="1.0" fill="#111"/>
<circle cx="73.10" cy="137.90" r="1.0" fill="#111"/>
<circle cx="75.50" cy="129.00" r="1.0" fill="#111"/>
<circle cx="101.20" cy="126.00" r="1.0" fill="#111"/>
<circle cx="99.80" cy="128.30" r="1.0" fill="#111"/>
<circle cx="101.90" cy="129.40" r="1.0" fill="#111"/>
<circle cx="103.80" cy="130.80" r="1.0" fill="#111"/>
<circle cx="100.50" cy="132.50" r="1.0" fill="#111"/>
<circle cx="102.50" cy="133.50" r="1.0" fill="#111"/>
<circle cx="99.50" cy="135.00" r="1.0" fill="#111"/>
<circle cx="101.50" cy="136.50" r="1.0" fill="#111"/>
<circle cx="103.00" cy="137.50" r="1.0" fill="#111"/>
<circle cx="100.50" cy="138.50" r="1.0" fill="#111"/>
<circle cx="102.00" cy="134.80" r="1.0" fill="#111"/>
<circle cx="98.50" cy="133.80" r="1.0" fill="#111"/>
<circle cx="126.60" cy="134.80" r="1.0" fill="#111"/>
<circle cx="125.50" cy="137.50" r="1.0" fill="#111"/>
<circle cx="128.00" cy="138.50" r="1.0" fill="#111"/>
<circle cx="124.50" cy="138.80" r="1.0" fill="#111"/>
<circle cx="192.50" cy="42.50" r="1.0" fill="#111"/>
<circle cx="216.80" cy="32.50" r="1.0" fill="#111"/>
<circle cx="268.00" cy="70.80" r="1.0" fill="#111"/>
<circle cx="196.10" cy="96.40" r="1.0" fill="#111"/>
<circle cx="191.30" cy="102.00" r="1.0" fill="#111"/>
<circle cx="190.50" cy="119.10" r="1.0" fill="#111"/>
<circle cx="195.00" cy="120.20" r="1.0" fill="#111"/>
<circle cx="189.90" cy="127.50" r="1.0" fill="#111"/>
<circle cx="194.40" cy="129.60" r="1.0" fill="#111"/>
<circle cx="195.50" cy="132.20" r="1.0" fill="#111"/>
<circle cx="194.10" cy="134.50" r="1.0" fill="#111"/>
<circle cx="193.50" cy="136.70" r="1.0" fill="#111"/>
<circle cx="192.20" cy="137.30" r="1.0" fill="#111"/>
<circle cx="190.50" cy="137.80" r="1.0" fill="#111"/>
<circle cx="218.90" cy="123.00" r="1.0" fill="#111"/>
<circle cx="221.30" cy="128.30" r="1.0" fill="#111"/>
<circle cx="218.90" cy="133.40" r="1.0" fill="#111"/>
<circle cx="215.50" cy="133.40" r="1.0" fill="#111"/>
<circle cx="217.50" cy="136.50" r="1.0" fill="#111"/>
<circle cx="220.00" cy="137.50" r="1.0" fill="#111"/>
<circle cx="241.30" cy="99.00" r="1.0" fill="#111"/>
<circle cx="241.30" cy="109.10" r="1.0" fill="#111"/>
<circle cx="245.00" cy="119.50" r="1.0" fill="#111"/>
<circle cx="240.50" cy="123.00" r="1.0" fill="#111"/>
<circle cx="246.30" cy="123.80" r="1.0" fill="#111"/>
<circle cx="241.30" cy="128.90" r="1.0" fill="#111"/>
<circle cx="242.60" cy="131.10" r="1.0" fill="#111"/>
<circle cx="243.50" cy="133.90" r="1.0" fill="#111"/>
<circle cx="245.80" cy="135.60" r="1.0" fill="#111"/>
<circle cx="241.30" cy="137.90" r="1.0" fill="#111"/>
<circle cx="244.00" cy="137.50" r="1.0" fill="#111"/>
<circle cx="268.90" cy="130.80" r="1.0" fill="#111"/>
<circle cx="267.50" cy="137.80" r="1.0" fill="#111"/>
<circle cx="336.25" cy="42.00" r="0.9" fill="#111"/>
<circle cx="363.25" cy="39.25" r="0.9" fill="#111"/>
<circle cx="368.00" cy="36.50" r="0.9" fill="#111"/>
<circle cx="367.50" cy="62.50" r="0.9" fill="#111"/>
<circle cx="335.00" cy="75.00" r="0.9" fill="#111"/>
<circle cx="391.10" cy="101.50" r="0.9" fill="#111"/>
<circle cx="332.80" cy="112.40" r="0.9" fill="#111"/>
<circle cx="331.70" cy="115.80" r="0.9" fill="#111"/>
<circle cx="338.50" cy="120.80" r="0.9" fill="#111"/>
<circle cx="339.80" cy="124.30" r="0.9" fill="#111"/>
<circle cx="333.20" cy="127.70" r="0.9" fill="#111"/>
<circle cx="332.80" cy="130.80" r="0.9" fill="#111"/>
<circle cx="336.00" cy="126.50" r="0.9" fill="#111"/>
<circle cx="363.80" cy="100.00" r="0.9" fill="#111"/>
<circle cx="362.90" cy="108.00" r="0.9" fill="#111"/>
<circle cx="368.00" cy="106.80" r="0.9" fill="#111"/>
<circle cx="368.30" cy="113.70" r="0.9" fill="#111"/>
<circle cx="364.90" cy="121.20" r="0.9" fill="#111"/>
<circle cx="368.80" cy="121.60" r="0.9" fill="#111"/>
<circle cx="362.70" cy="125.50" r="0.9" fill="#111"/>
<circle cx="366.00" cy="129.10" r="0.9" fill="#111"/>
<circle cx="394.50" cy="119.50" r="0.9" fill="#111"/>
<circle cx="393.00" cy="122.50" r="0.9" fill="#111"/>
<circle cx="395.50" cy="123.50" r="0.9" fill="#111"/>
<circle cx="392.00" cy="126.00" r="0.9" fill="#111"/>
<circle cx="394.00" cy="127.50" r="0.9" fill="#111"/>
<circle cx="396.00" cy="129.50" r="0.9" fill="#111"/>
<circle cx="393.00" cy="131.00" r="0.9" fill="#111"/>
<circle cx="419.10" cy="122.40" r="0.9" fill="#111"/>
<circle cx="422.10" cy="124.20" r="0.9" fill="#111"/>
<circle cx="425.70" cy="129.90" r="0.9" fill="#111"/>
<circle cx="53.50" cy="202.70" r="0.65" fill="#222"/>
<circle cx="58.50" cy="229.00" r="0.65" fill="#222"/>
<circle cx="94.30" cy="209.80" r="0.65" fill="#222"/>
<circle cx="94.80" cy="220.00" r="0.65" fill="#222"/>
<circle cx="135.00" cy="214.70" r="0.65" fill="#222"/>
<circle cx="127.40" cy="229.10" r="0.65" fill="#222"/>
<circle cx="131.50" cy="235.30" r="0.65" fill="#222"/>
<circle cx="126.40" cy="238.60" r="0.65" fill="#222"/>
<circle cx="127.00" cy="240.20" r="0.65" fill="#222"/>
<circle cx="131.20" cy="243.90" r="0.65" fill="#222"/>
<circle cx="128.90" cy="246.20" r="0.65" fill="#222"/>
<circle cx="127.00" cy="249.20" r="0.65" fill="#222"/>
<circle cx="128.90" cy="251.80" r="0.65" fill="#222"/>
<circle cx="134.50" cy="250.80" r="0.65" fill="#222"/>
<circle cx="126.40" cy="261.80" r="0.65" fill="#222"/>
<circle cx="200.20" cy="196.80" r="0.65" fill="#222"/>
<circle cx="198.50" cy="229.20" r="0.65" fill="#222"/>
<circle cx="237.00" cy="194.20" r="0.65" fill="#222"/>
<circle cx="236.00" cy="212.20" r="0.65" fill="#222"/>
<circle cx="268.20" cy="207.20" r="0.65" fill="#222"/>
<circle cx="267.50" cy="211.20" r="0.65" fill="#222"/>
<circle cx="273.60" cy="212.10" r="0.65" fill="#222"/>
<circle cx="266.20" cy="216.10" r="0.65" fill="#222"/>
<circle cx="266.20" cy="231.10" r="0.65" fill="#222"/>
<circle cx="267.00" cy="236.40" r="0.65" fill="#222"/>
<circle cx="270.30" cy="238.50" r="0.65" fill="#222"/>
<circle cx="275.20" cy="240.50" r="0.65" fill="#222"/>
<circle cx="271.10" cy="246.20" r="0.65" fill="#222"/>
<circle cx="275.70" cy="262.40" r="0.65" fill="#222"/>
<circle cx="343.50" cy="227.60" r="0.65" fill="#222"/>
<circle cx="340.50" cy="230.50" r="0.65" fill="#222"/>
<circle cx="343.00" cy="232.80" r="0.65" fill="#222"/>
<circle cx="341.50" cy="236.00" r="0.65" fill="#222"/>
<circle cx="377.90" cy="230.40" r="0.65" fill="#222"/>
<circle cx="376.00" cy="247.40" r="0.65" fill="#222"/>
<circle cx="415.60" cy="229.10" r="0.65" fill="#222"/>
<circle cx="411.50" cy="232.40" r="0.65" fill="#222"/>
<circle cx="411.50" cy="235.00" r="0.65" fill="#222"/>
<circle cx="418.00" cy="237.90" r="0.65" fill="#222"/>
<circle cx="409.60" cy="240.20" r="0.65" fill="#222"/>
<circle cx="414.10" cy="247.10" r="0.65" fill="#222"/>
<circle cx="408.40" cy="249.30" r="0.65" fill="#222"/>
<circle cx="411.50" cy="252.30" r="0.65" fill="#222"/>
<circle cx="413.60" cy="258.40" r="0.65" fill="#222"/>
<circle cx="53.10" cy="406.30" r="1.8" fill="#e3067e"/>
<circle cx="74.20" cy="407.90" r="1.8" fill="#e3067e"/>
<circle cx="79.00" cy="408.50" r="1.8" fill="#e3067e"/>
<circle cx="75.60" cy="415.60" r="1.8" fill="#e3067e"/>
<circle cx="81.50" cy="419.40" r="1.8" fill="#e3067e"/>
<circle cx="102.20" cy="403.20" r="1.8" fill="#e3067e"/>
<circle cx="102.50" cy="410.20" r="1.8" fill="#e3067e"/>
<circle cx="101.80" cy="416.70" r="1.8" fill="#e3067e"/>
<circle cx="105.30" cy="416.50" r="1.8" fill="#e3067e"/>
<circle cx="107.10" cy="417.30" r="1.8" fill="#e3067e"/>
<circle cx="101.80" cy="420.40" r="1.8" fill="#e3067e"/>
<circle cx="107.10" cy="367.10" r="1.8" fill="#e3067e"/>
<circle cx="125.70" cy="335.10" r="1.8" fill="#e3067e"/>
<circle cx="132.30" cy="390.30" r="1.8" fill="#e3067e"/>
<circle cx="126.00" cy="395.00" r="1.8" fill="#e3067e"/>
<circle cx="127.50" cy="398.70" r="1.8" fill="#e3067e"/>
<circle cx="126.50" cy="404.20" r="1.8" fill="#e3067e"/>
<circle cx="128.10" cy="407.70" r="1.8" fill="#e3067e"/>
<circle cx="126.50" cy="412.00" r="1.8" fill="#e3067e"/>
<circle cx="126.50" cy="416.20" r="1.8" fill="#e3067e"/>
<circle cx="129.50" cy="410.50" r="1.8" fill="#e3067e"/>
<circle cx="49.20" cy="411.30" r="1.8" fill="#fb8a00"/>
<circle cx="56.30" cy="413.10" r="1.8" fill="#fb8a00"/>
<circle cx="74.20" cy="409.40" r="1.8" fill="#fb8a00"/>
<circle cx="79.60" cy="413.00" r="1.8" fill="#fb8a00"/>
<circle cx="79.00" cy="420.40" r="1.8" fill="#fb8a00"/>
<circle cx="77.50" cy="421.50" r="1.8" fill="#fb8a00"/>
<circle cx="102.70" cy="392.40" r="1.8" fill="#fb8a00"/>
<circle cx="102.40" cy="418.60" r="1.8" fill="#fb8a00"/>
<circle cx="105.90" cy="419.40" r="1.8" fill="#fb8a00"/>
<circle cx="130.70" cy="411.70" r="1.8" fill="#fb8a00"/>
<circle cx="131.20" cy="414.30" r="1.8" fill="#fb8a00"/>
<circle cx="130.30" cy="417.00" r="1.8" fill="#fb8a00"/>
<circle cx="129.60" cy="419.50" r="1.8" fill="#fb8a00"/>
<circle cx="130.20" cy="421.80" r="1.8" fill="#fb8a00"/>
<circle cx="126.50" cy="418.80" r="1.8" fill="#fb8a00"/>
<circle cx="151.50" cy="417.90" r="1.8" fill="#fb8a00"/>
<circle cx="153.60" cy="417.50" r="1.8" fill="#fb8a00"/>
<circle cx="155.60" cy="417.10" r="1.8" fill="#fb8a00"/>
<circle cx="157.90" cy="416.20" r="1.8" fill="#fb8a00"/>
<circle cx="182.90" cy="412.10" r="1.8" fill="#a3cf88"/>
<circle cx="181.50" cy="414.80" r="1.8" fill="#a3cf88"/>
<circle cx="178.10" cy="416.20" r="1.8" fill="#a3cf88"/>
<circle cx="183.80" cy="417.90" r="1.8" fill="#a3cf88"/>
<circle cx="178.70" cy="419.80" r="1.8" fill="#a3cf88"/>
<circle cx="184.40" cy="419.80" r="1.8" fill="#a3cf88"/>
<rect x="0.5" y="0.5" width="518.6" height="460" fill="none" stroke="#000" stroke-width="1.2"/>
<rect x="0" y="460.3" width="520" height="1.7" fill="#000"/>
<rect x="518.7" y="0" width="1.3" height="462" fill="#000"/>
</svg>
</body></html>
